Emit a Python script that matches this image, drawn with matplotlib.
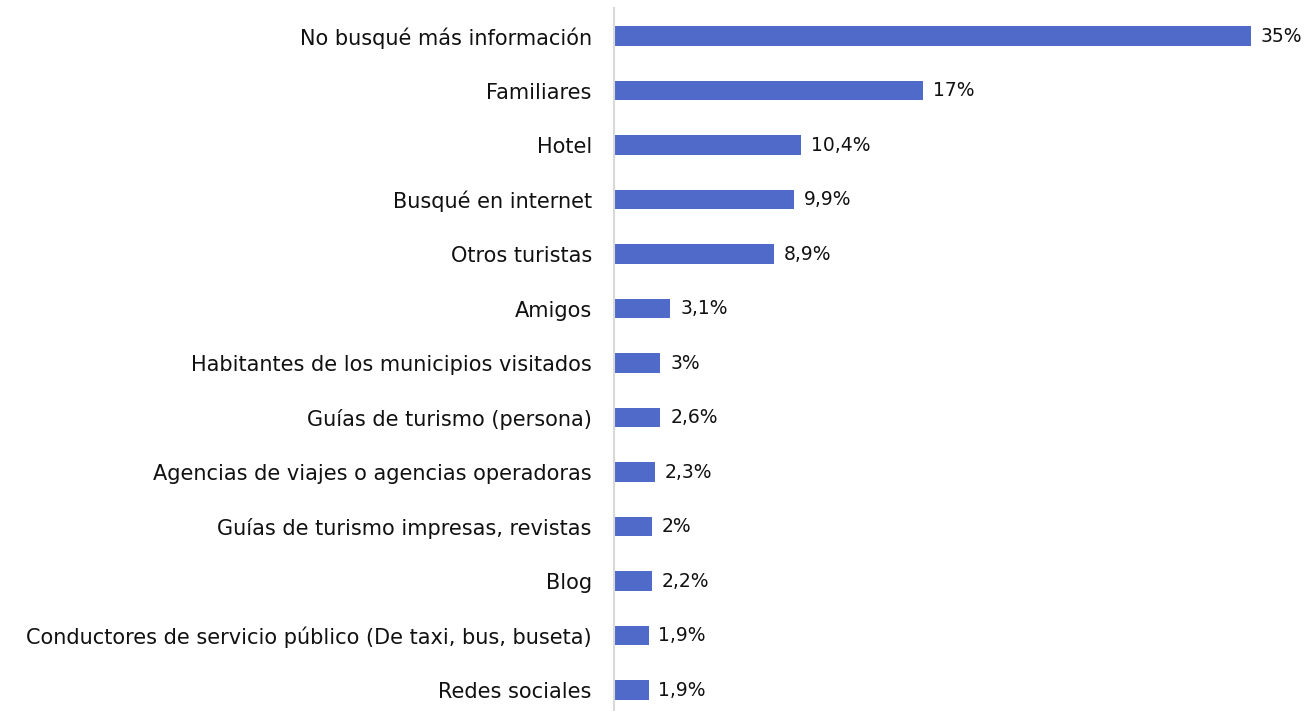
import matplotlib.pyplot as plt

# Datos
categorias = [
    'No busqué más información',
    'Familiares',
    'Hotel',
    'Busqué en internet',
    'Otros turistas',
    'Amigos',
    'Habitantes de los municipios visitados',
    'Guías de turismo (persona)',
    'Agencias de viajes o agencias operadoras',
    'Guías de turismo impresas, revistas',
    'Blog',
    'Conductores de servicio público (De taxi, bus, buseta)',
    'Redes sociales',
]
# longitud de las barras (estimada)
valores = [35, 17, 10.3, 9.9, 8.8, 3.1, 2.55, 2.55, 2.25, 2.1, 2.1, 1.9, 1.9]
# etiquetas tal como aparecen
etiquetas = ['35%', '17%', '10,4%', '9,9%', '8,9%', '3,1%', '3%', '2,6%',
             '2,3%', '2%', '2,2%', '1,9%', '1,9%']

W, H = 1314, 711
fig = plt.figure(figsize=(W / 100, H / 100), dpi=100)
ax = fig.add_axes([614 / W, 0, (1300 - 614) / W, 703 / H])

y = list(range(len(categorias)))
ax.barh(y, valores, height=0.35, color='#4F6AC9')

for yi, v, t in zip(y, valores, etiquetas):
    ax.annotate(t, (v, yi), xytext=(7, 0), textcoords='offset points',
                va='center', ha='left', fontsize=13.5, family='DejaVu Sans',
                color='#111111')

ax.set_xlim(0, (1300 - 614) / 18.2)
ax.set_ylim(len(categorias) - 1 + 0.385, -0.514)
ax.set_yticks(y)
ax.set_yticklabels(categorias, fontsize=15, family='DejaVu Sans', color='#111111')
ax.tick_params(axis='y', length=0, pad=16)
ax.set_xticks([])

for s in ['top', 'right', 'bottom']:
    ax.spines[s].set_visible(False)
ax.spines['left'].set_color('#D9D9D9')
ax.spines['left'].set_linewidth(1.5)

fig.savefig('out.png', dpi=100)
